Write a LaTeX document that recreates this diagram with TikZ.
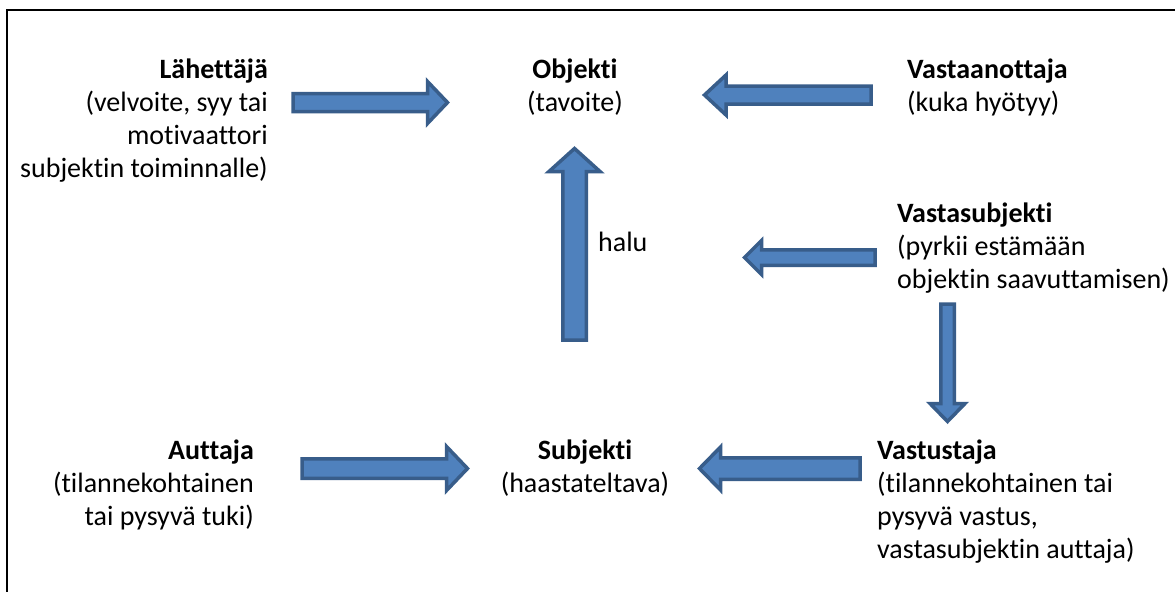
\documentclass[tikz,border=0pt]{standalone}
\usepackage{fontspec}
\setmainfont[Ligatures=NoCommon]{Carlito}
\definecolor{arrowfill}{HTML}{4F81BD}
\definecolor{arrowline}{HTML}{385D8A}
% invisible strut that fixes the top of each text block 24pt above its first baseline
\newcommand\lnstrut{\rule{0pt}{24pt}}
% horizontal block arrow: tail x, tip x, centre y, body half-width, head half-width, head length
\newcommand\harrow[6]{%
  \pgfmathsetmacro\hb{#2-(#6)*sign(#2-#1)}%
  \draw[blockarrow] (#1,#3-#4) -- (\hb,#3-#4) -- (\hb,#3-#5) -- (#2,#3)
    -- (\hb,#3+#5) -- (\hb,#3+#4) -- (#1,#3+#4) -- cycle;}
% vertical block arrow: tail y, tip y, centre x, body half-width, head half-width, head length
\newcommand\varrow[6]{%
  \pgfmathsetmacro\hb{#2-(#6)*sign(#2-#1)}%
  \draw[blockarrow] (#3-#4,#1) -- (#3-#4,\hb) -- (#3-#5,\hb) -- (#3,#2)
    -- (#3+#5,\hb) -- (#3+#4,\hb) -- (#3+#4,#1) -- cycle;}
\begin{document}
\begin{tikzpicture}[x=1pt,y=-1pt,
  blockarrow/.style={fill=arrowfill,draw=arrowline,line width=3.5pt,line join=miter},
  label/.style={inner sep=0pt,font=\fontsize{28}{33}\selectfont}]
\useasboundingbox (0,0) rectangle (1175,592);
\fill[white] (0,0) rectangle (1175,592);
% frame
\draw[line width=1.5pt] (1175,10) -- (7,10) -- (7,592);

% actants
\node[label,anchor=north east,align=right] (sender) at (268,54)
  {\lnstrut\textbf{Lähettäjä}\\(velvoite, syy tai\\motivaattori\\subjektin toiminnalle)};
\node[label,anchor=north,align=center] (object) at (575,54)
  {\lnstrut\textbf{Objekti}\\(tavoite)};
\node[label,anchor=north west,align=left] (receiver) at (907,54)
  {\lnstrut\textbf{Vastaanottaja}\\(kuka hyötyy)};
\node[label,anchor=north west,align=left] (desire) at (598,227)
  {\lnstrut halu};
\node[label,anchor=north west,align=left] (countersubject) at (897,198)
  {\lnstrut\textbf{Vastasubjekti}\\(pyrkii estämään\\objektin saavuttamisen)};
\node[label,anchor=north east,align=right] (helper) at (254,435)
  {\lnstrut\textbf{Auttaja}\\(tilannekohtainen\\tai pysyvä tuki)};
\node[label,anchor=north,align=center] (subject) at (585,435)
  {\lnstrut\textbf{Subjekti}\\(haastateltava)};
\node[label,anchor=north west,align=left] (opponent) at (877,435)
  {\lnstrut\textbf{Vastustaja}\\(tilannekohtainen tai\\pysyvä vastus,\\vastasubjektin auttaja)};

% block arrows
\harrow{293}{447.5}{102.5}{9}{21}{20}      % sender -> object
\harrow{871}{704.5}{95}{9}{20}{21.5}       % receiver -> object
\varrow{340}{148.5}{574.5}{11.75}{25.5}{23} % subject -> object (halu)
\harrow{875}{744.5}{257.5}{7.75}{17}{17}   % countersubject
\varrow{304}{421.5}{947.5}{6.75}{17.5}{18} % countersubject -> opponent
\harrow{302}{467.5}{468.5}{9.75}{22}{21}   % helper -> subject
\harrow{860}{699.5}{468.5}{10.75}{21.5}{21} % opponent -> subject
\end{tikzpicture}
\end{document}
